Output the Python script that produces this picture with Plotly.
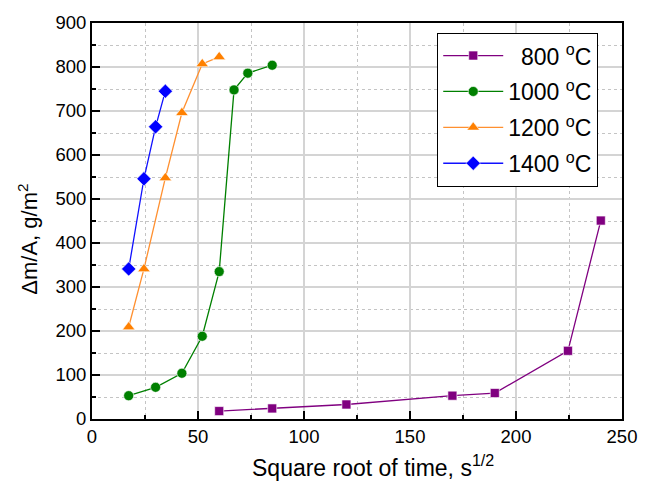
import plotly.graph_objects as go

# Mass gain per unit area vs square root of oxidation time
x_800 = [60, 85, 120, 170, 190, 224.5, 240]
y_800 = [18, 24, 33, 53, 59, 155, 451]

x_1000 = [17.3, 30, 42.4, 52, 60, 67, 73.5, 85]
y_1000 = [53, 72, 104, 188, 335, 748, 786, 804]

x_1200 = [17.3, 24.5, 34.6, 42.4, 52, 60]
y_1200 = [209, 341, 548, 696, 807, 823]

x_1400 = [17.3, 24.5, 30, 34.6]
y_1400 = [341, 546, 664, 745]

NB = "\u00a0\u00a0"  # two no-break spaces = one digit width
names = [NB + "800 <sup>o</sup>C", "1000 <sup>o</sup>C", "1200 <sup>o</sup>C", "1400 <sup>o</sup>C"]

series = [
    (x_800, y_800, "#800080", "#800080", "square", 9),
    (x_1000, y_1000, "#008000", "#008000", "circle", 10),
    (x_1200, y_1200, "#FF8000", "#FF9030", "triangle-up", 11),
    (x_1400, y_1400, "#0000FF", "#1010FF", "diamond", 11),
]

fig = go.Figure()
for i, (xs, ys, mcol, lcol, sym, sz) in enumerate(series):
    fig.add_trace(go.Scatter(
        x=xs, y=ys, mode="lines+markers", name=names[i], legendgroup=f"g{i}",
        line=dict(color=lcol, width=1.3),
        marker=dict(symbol=sym, size=sz, color=mcol, line=dict(color="white", width=0.6)),
    ))

font_family = "Liberation Sans, Arial, sans-serif"
axis_common = dict(
    showline=True, linecolor="black", linewidth=2, mirror=True,
    ticks="inside", ticklen=8, tickwidth=2, tickcolor="black",
    showgrid=True, gridcolor="#d4d4d4", gridwidth=1.5,
    zeroline=False,
    tickfont=dict(family=font_family, size=18.5, color="black"),
)

fig.update_xaxes(
    range=[0, 250], tick0=0, dtick=50,
    minor=dict(dtick=25, ticks="inside", ticklen=4, tickcolor="black", tickwidth=1.5,
               showgrid=True, gridcolor="#c4c4c4", griddash="dot", gridwidth=1),
    **axis_common,
)
fig.update_yaxes(
    range=[0, 900], tick0=0, dtick=100,
    minor=dict(dtick=50, ticks="inside", ticklen=4, tickcolor="black", tickwidth=1.5,
               showgrid=True, gridcolor="#c4c4c4", griddash="dot", gridwidth=1),
    **axis_common,
)

fig.add_annotation(
    text="Square root of time, s<sup>1/2</sup>", xref="paper", yref="paper",
    x=0.53, y=-0.118, xanchor="center", yanchor="middle", showarrow=False,
    font=dict(family=font_family, size=23, color="black"),
)
fig.add_annotation(
    text="\u0394m/A, g/m<sup>2</sup>", xref="paper", yref="paper",
    x=-0.121, y=0.455, xanchor="center", yanchor="middle", textangle=-90,
    showarrow=False, font=dict(family=font_family, size=22, color="black"),
)

fig.update_layout(
    width=649, height=491,
    margin=dict(l=92, r=16, t=20, b=72),
    paper_bgcolor="white", plot_bgcolor="white",
    font=dict(family=font_family, color="black"),
    showlegend=True,
    legend=dict(
        x=0.651, y=0.975, xanchor="left", yanchor="top",
        bgcolor="white", bordercolor="black", borderwidth=1.2,
        font=dict(family=font_family, size=23, color="black"),
        itemwidth=60, tracegroupgap=3,
    ),
)

fig.write_html("out.html")
